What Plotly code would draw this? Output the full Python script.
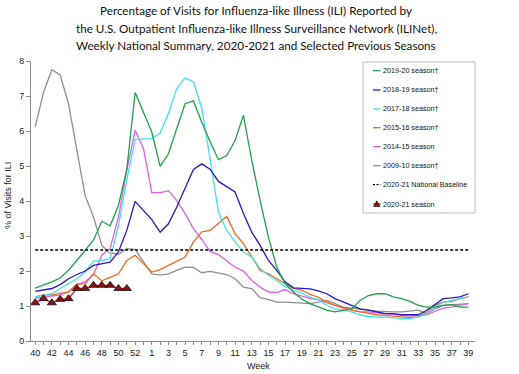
import plotly.graph_objects as go

# ---------------- data ----------------
weeks = list(range(40, 54)) + list(range(1, 40))          # 53 weeks (2020 has week 53)
tick_labels = [str(w) if i % 2 == 0 else "" for i, w in enumerate(weeks)]

s2019_20 = [1.51, 1.59, 1.69, 1.80, 2.02, 2.30, 2.59, 2.88, 3.42, 3.29, 3.88, 4.90, 7.10, 6.54,
            5.97, 4.99, 5.35, 6.07, 6.78, 6.86, 6.25, 5.70, 5.18, 5.30, 5.73, 6.45, 5.16, 4.02,
            2.97, 2.11, 1.64, 1.40, 1.20, 1.07, 0.97, 0.88, 0.83, 0.88, 0.92, 1.16, 1.30, 1.35,
            1.35, 1.26, 1.21, 1.13, 1.02, 0.97, 0.97, 1.02, 1.04, 0.97, 0.97]
s2018_19 = [1.42, 1.45, 1.50, 1.61, 1.78, 1.90, 2.00, 2.16, 2.20, 2.25, 2.55, 3.16, 3.99, 3.73,
            3.47, 3.11, 3.35, 3.83, 4.35, 4.90, 5.06, 4.91, 4.56, 4.40, 4.26, 3.64, 3.11, 2.73,
            2.30, 2.02, 1.69, 1.52, 1.50, 1.49, 1.43, 1.35, 1.21, 1.11, 1.02, 0.92, 0.88, 0.83,
            0.78, 0.78, 0.75, 0.75, 0.75, 0.88, 1.04, 1.21, 1.23, 1.26, 1.35]
s2017_18 = [1.26, 1.30, 1.35, 1.50, 1.64, 1.78, 1.97, 2.28, 2.30, 2.35, 3.30, 4.60, 5.76, 5.78,
            5.78, 5.94, 6.50, 7.21, 7.52, 7.40, 6.65, 5.20, 3.68, 3.16, 2.83, 2.54, 2.40, 2.07,
            1.88, 1.73, 1.56, 1.45, 1.37, 1.25, 1.18, 1.02, 0.92, 0.88, 0.83, 0.75, 0.70, 0.69,
            0.69, 0.67, 0.64, 0.64, 0.69, 0.78, 0.97, 1.10, 1.16, 1.21, 1.26]
s2015_16 = [1.26, 1.32, 1.32, 1.35, 1.40, 1.62, 1.64, 1.92, 1.72, 1.82, 1.92, 2.30, 2.45, 2.21,
            1.97, 2.04, 2.16, 2.26, 2.40, 2.83, 3.12, 3.16, 3.35, 3.56, 3.07, 2.78, 2.40, 2.02,
            1.92, 1.78, 1.64, 1.50, 1.45, 1.33, 1.25, 1.11, 1.02, 0.94, 0.88, 0.83, 0.78, 0.75,
            0.73, 0.71, 0.69, 0.67, 0.69, 0.83, 1.02, 1.11, 1.13, 1.21, 1.26]
s2014_15 = [1.22, 1.26, 1.30, 1.32, 1.40, 1.62, 1.69, 1.90, 2.45, 2.65, 3.54, 4.88, 6.02, 5.50,
            4.24, 4.24, 4.29, 4.02, 3.64, 3.21, 2.90, 2.56, 2.47, 2.30, 2.11, 2.00, 1.73, 1.54,
            1.40, 1.38, 1.47, 1.35, 1.28, 1.22, 1.18, 1.11, 1.02, 0.94, 0.88, 0.83, 0.83, 0.81,
            0.78, 0.75, 0.73, 0.71, 0.73, 0.75, 0.85, 0.94, 0.97, 1.02, 1.07]
s2009_10 = [6.12, 7.10, 7.75, 7.60, 6.78, 5.45, 4.15, 3.55, 2.73, 2.51, 2.48, 2.64, 2.62, 2.26,
            1.92, 1.88, 1.92, 2.02, 2.11, 2.10, 1.95, 1.99, 1.94, 1.90, 1.78, 1.54, 1.50, 1.24,
            1.18, 1.11, 1.11, 1.10, 1.10, 1.07, 1.11, 1.16, 1.07, 0.97, 0.94, 0.92, 0.88, 0.85,
            0.83, 0.83, 0.83, 0.85, 0.88, 0.78, 0.92, 1.02, 1.04, 1.07, 1.07]
baseline_value = 2.6
s2020_21 = [1.09, 1.21, 1.09, 1.19, 1.21, 1.50, 1.50, 1.59, 1.59, 1.59, 1.50, 1.50]

series_names = ["2019-20 season\u2020", "2018-19 season\u2020", "2017-18 season\u2020",
                "2015-16 season\u2020", "2014-15 season", "2009-10 season\u2020"]
series_values = [s2019_20, s2018_19, s2017_18, s2015_16, s2014_15, s2009_10]
series_colors = ["#1FA04A", "#2A14C8", "#3FE2E8", "#EE6A1E", "#E35EE3", "#8F8F8F"]
baseline_name = "2020-21 National Baseline"
current_name = "2020-21 season"
title_lines = ["Percentage of Visits for Influenza-like Illness (ILI) Reported by",
               "the U.S. Outpatient Influenza-like Illness Surveillance Network (ILINet),",
               "Weekly National Summary, 2020-2021 and Selected Previous Seasons"]

# ---------------- figure ----------------
W, H = 519, 374
L, R, T, B = 31, 44, 61, 33
PX0, PX1, PY0, PY1 = L, W - R, T, H - B


def xp(px):
    return (px - PX0) / (PX1 - PX0)


def yp(py):
    return (PY1 - py) / (PY1 - PY0)


x_idx = list(range(len(weeks)))
fig = go.Figure()

for name, vals, col in reversed(list(zip(series_names, series_values, series_colors))):
    fig.add_trace(go.Scatter(x=x_idx, y=vals, mode="lines", name=name,
                             line=dict(color=col, width=1.3), showlegend=False))

fig.add_trace(go.Scatter(x=x_idx, y=[baseline_value] * len(x_idx), mode="lines",
                         name=baseline_name, line=dict(color="black", width=1.3, dash="3px,2px"),
                         showlegend=False))

fig.add_trace(go.Scatter(x=x_idx[:len(s2020_21)], y=s2020_21, mode="lines+markers",
                         name=current_name, line=dict(color="#E02424", width=1.3),
                         marker=dict(symbol="triangle-up", size=8, color="#8B1212",
                                     line=dict(color="black", width=0.7)),
                         showlegend=False))

axis_col = "#8C8C8C"
fig.update_xaxes(range=[-0.5, 52.8], tickmode="array", tickvals=x_idx, ticktext=tick_labels,
                 ticks="outside", ticklen=3, tickcolor=axis_col, showline=True,
                 linecolor=axis_col, linewidth=1, showgrid=False, zeroline=False,
                 tickfont=dict(family="Liberation Sans, Arial", size=9, color="#222"))
fig.update_yaxes(range=[0, 8], tickvals=list(range(0, 9)), ticks="outside", ticklen=4,
                 tickcolor=axis_col, showline=True, linecolor=axis_col, linewidth=1,
                 showgrid=False, zeroline=False,
                 tickfont=dict(family="Liberation Sans, Arial", size=9, color="#222"))

annotations = [
    dict(text="Week", x=xp(258), y=yp(366), xref="paper", yref="paper", showarrow=False,
         xanchor="center", yanchor="middle",
         font=dict(family="Liberation Sans, Arial", size=9, color="#222")),
    dict(text="% of Visits for ILI", x=xp(8), y=yp(196), xref="paper", yref="paper",
         showarrow=False, textangle=-90, xanchor="center", yanchor="middle",
         font=dict(family="Liberation Sans, Arial", size=9, color="#222")),
]
for line_txt, ly in zip(title_lines, [10.5, 28, 45]):
    annotations.append(dict(text=line_txt, x=xp(256), y=yp(ly), xref="paper", yref="paper",
                            xanchor="center", yanchor="middle", showarrow=False,
                            font=dict(family="Lato, Calibri, sans-serif", size=11.7,
                                      color="#111")))

# custom legend (box, short line keys, labels)
shapes = [dict(type="rect", xref="paper", yref="paper", x0=xp(363), x1=xp(475),
               y0=yp(213), y1=yp(62), line=dict(color="#C0C0C0", width=1),
               fillcolor="white", layer="above")]
leg_y = [70.7, 90, 109, 127.7, 146.7, 165.7, 184.7, 204]
leg_names = series_names + [baseline_name, current_name]
leg_cols = series_colors + ["black", "#E02424"]
for k, (nm, cl, ly) in enumerate(zip(leg_names, leg_cols, leg_y)):
    dash = "2px,1.5px" if k == 6 else "solid"
    shapes.append(dict(type="line", xref="paper", yref="paper", x0=xp(373), x1=xp(380.5),
                       y0=yp(ly), y1=yp(ly), line=dict(color=cl, width=1.3, dash=dash),
                       layer="above"))
    annotations.append(dict(text=nm, x=xp(380.5), y=yp(ly), xref="paper", yref="paper",
                            xanchor="left", yanchor="middle", showarrow=False,
                            font=dict(family="Liberation Sans, Arial", size=7.2, color="#111")))
cx, cy = 376.8, 204
tri = "M {} {} L {} {} L {} {} Z".format(xp(cx - 3.2), yp(cy + 2.6), xp(cx + 3.2), yp(cy + 2.6),
                                         xp(cx), yp(cy - 3.2))
shapes.append(dict(type="path", xref="paper", yref="paper", path=tri, fillcolor="#8B1212",
                   line=dict(color="black", width=0.6), layer="above"))

fig.update_layout(
    width=W, height=H, margin=dict(l=L, r=R, t=T, b=B),
    paper_bgcolor="white", plot_bgcolor="white", showlegend=False,
    annotations=annotations, shapes=shapes,
)

fig.write_html("out.html", config={"displayModeBar": False},
               post_script="document.body.style.margin='0';document.body.style.overflow='hidden';")
